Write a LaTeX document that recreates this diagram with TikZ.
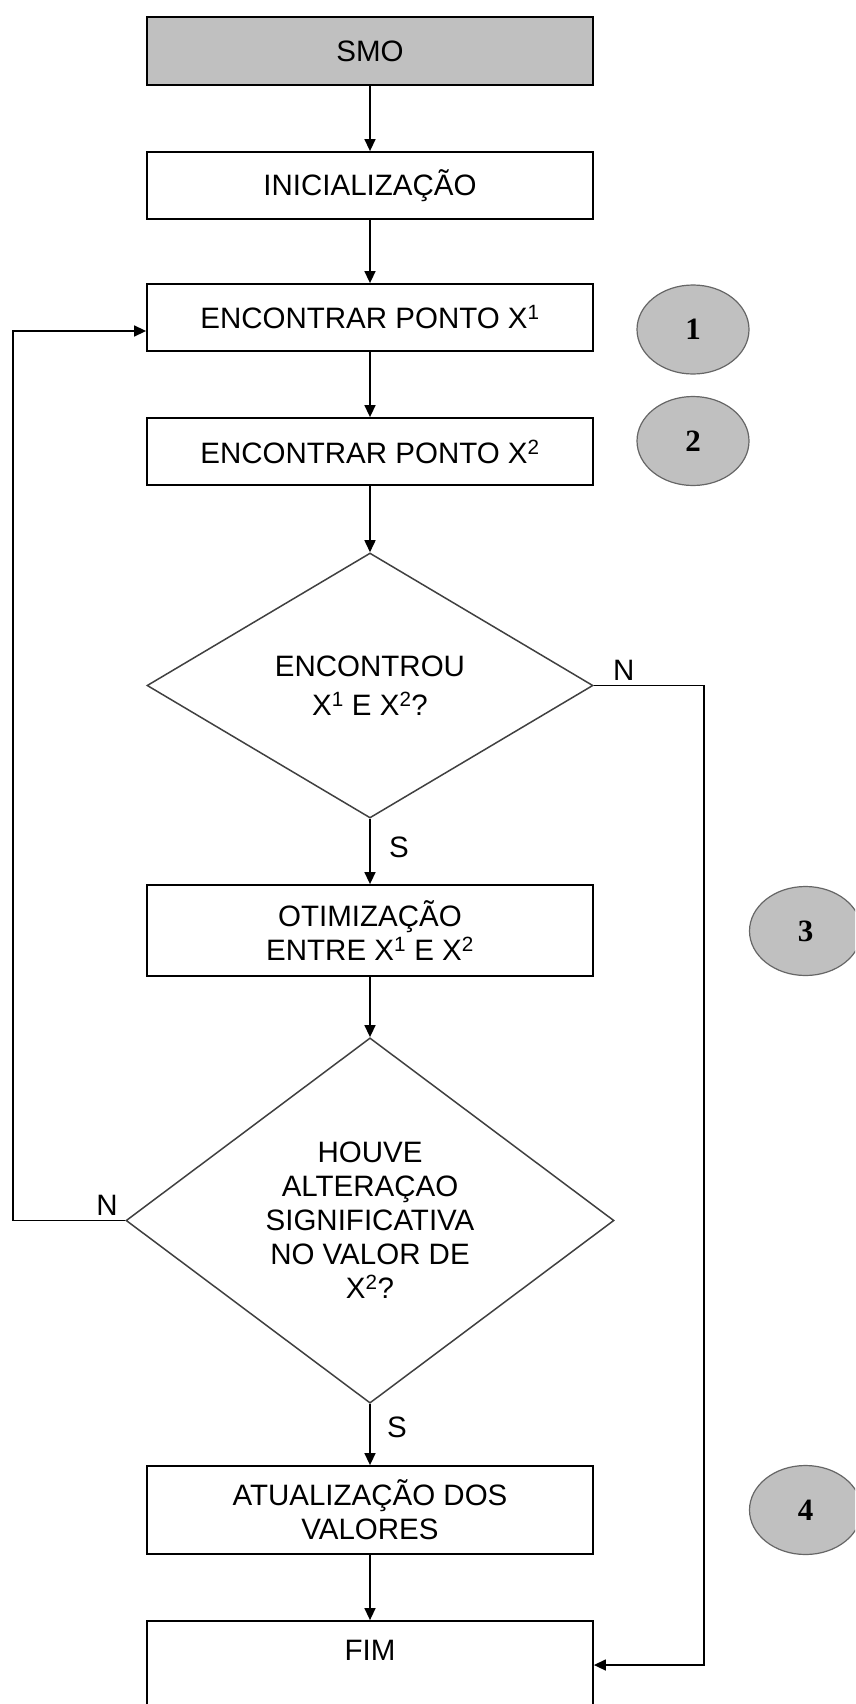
\documentclass[tikz,border=0pt]{standalone}
\usepackage{fontspec}
\setmainfont{Liberation Sans}
\newfontfamily\numfont{Liberation Serif}
\usetikzlibrary{shapes.geometric,arrows.meta}
\definecolor{boxgray}{HTML}{C0C0C0}
\begin{document}
\begin{tikzpicture}[x=1pt,y=-1pt,
  every node/.style={font=\fontsize{29.5}{34}\selectfont},
  procbox/.style={draw=black, line width=1.8pt, minimum width=446pt, inner sep=0pt, align=center},
  decision/.style={diamond, draw=black!75, line width=1.5pt, inner sep=0pt, align=center},
  marker/.style={ellipse, draw=black!60, line width=1.2pt, fill=boxgray, minimum width=112pt, minimum height=89pt, inner sep=0pt, font=\numfont\bfseries\fontsize{31}{33}\selectfont},
  flow/.style={line width=1.5pt, -{Triangle[length=12pt,width=11pt]}},
  lbl/.style={inner sep=0pt}
]
\useasboundingbox (0,0) rectangle (855,1704);
\begin{scope}
\clip (0,0) rectangle (855,1704);
% process boxes
\node[procbox, fill=boxgray, minimum height=68pt] (smo) at (370,51) {SMO};
\node[procbox, minimum height=67pt] (init) at (370,185.5) {INICIALIZAÇÃO};
\node[procbox, minimum height=67pt] (enc1) at (370,317.5) {ENCONTRAR PONTO X\textsuperscript{1}};
\node[procbox, minimum height=67pt] (enc2) at (370,451.5) {ENCONTRAR PONTO X\textsuperscript{2}};
\node[decision, minimum width=446pt, minimum height=265pt] (dec1) at (370,685.5) {ENCONTROU\\[5pt]X\textsuperscript{1} E X\textsuperscript{2}?};
\node[procbox, minimum height=91pt] (otim) at (370,930.5) {OTIMIZAÇÃO\\ENTRE X\textsuperscript{1} E X\textsuperscript{2}};
\node[decision, minimum width=488pt, minimum height=355pt] (dec2) at (370,1220.5) {HOUVE\\ALTERAÇAO\\SIGNIFICATIVA\\NO VALOR DE\\X\textsuperscript{2}?};
\node[procbox, minimum height=88pt] (atu) at (370,1510) {ATUALIZAÇÃO DOS\\VALORES};
\node[procbox, minimum height=138pt, text height=39.5pt, text depth=98.5pt] (fim) at (370,1690) {FIM};
% markers
\node[marker] (m1) at (693,329.5) {1};
\node[marker] (m2) at (693,441) {2};
\node[marker] (m3) at (805.5,931) {3};
\node[marker] (m4) at (805.5,1510) {4};
% connectors
\draw[flow] (smo) -- (init);
\draw[flow] (init) -- (enc1);
\draw[flow] (enc1) -- (enc2);
\draw[flow] (enc2) -- (dec1);
\draw[flow] (dec1) -- (otim);
\draw[flow] (otim) -- (dec2);
\draw[flow] (dec2) -- (atu);
\draw[flow] (atu) -- (fim);
\coordinate (rt) at (704,1665);
\coordinate (lt) at (13,331);
\draw[flow] (dec1.east) -| (rt) -- (fim.east |- rt);
\draw[flow] (dec2.west) -| (lt) -- (enc1.west |- lt);
% labels
\node[lbl] (n1) at (623.7,670) {N};
\node[lbl] (s1) at (399,847) {S};
\node[lbl] (n2) at (107,1205) {N};
\node[lbl] (s2) at (397,1427) {S};
\end{scope}
\end{tikzpicture}
\end{document}
